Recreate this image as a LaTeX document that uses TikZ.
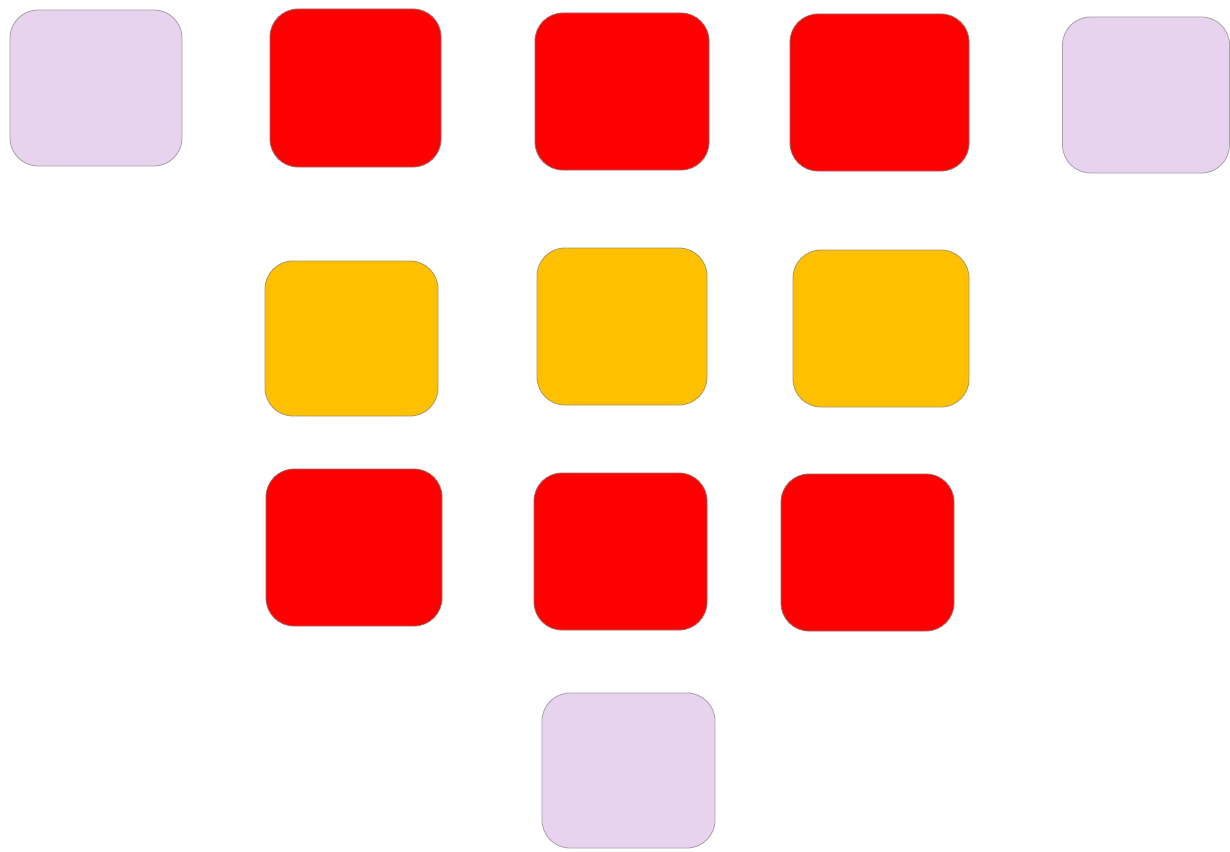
\documentclass[tikz,border=0pt]{standalone}
\definecolor{lav}{HTML}{E8D3EE}
\definecolor{lavline}{HTML}{A8A0A8}
\definecolor{gold}{HTML}{FFC000}
\definecolor{goldline}{HTML}{A89868}
\definecolor{redline}{HTML}{A06868}
\begin{document}
\begin{tikzpicture}[x=1pt,y=-1pt,
  tile/.style={rectangle, rounded corners=28pt, inner sep=0pt, line width=0.8pt},
  lavtile/.style={tile, fill=lav, draw=lavline},
  redtile/.style={tile, fill=red, draw=redline},
  goldtile/.style={tile, fill=gold, draw=goldline}]
\useasboundingbox[fill=white] (0,0) rectangle (1230,851);
\node[lavtile, minimum width=172pt, minimum height=156pt] (n1) at (96,88) {};
\node[redtile, minimum width=171pt, minimum height=158pt] (n2) at (355.5,88) {};
\node[redtile, minimum width=174pt, minimum height=157pt] (n3) at (622,91.5) {};
\node[redtile, minimum width=179pt, minimum height=157pt] (n4) at (879.5,92.5) {};
\node[lavtile, minimum width=167pt, minimum height=156pt] (n5) at (1146,95) {};
\node[goldtile, minimum width=173pt, minimum height=155pt] (n6) at (351.5,338.5) {};
\node[goldtile, minimum width=170pt, minimum height=157pt] (n7) at (622,326.5) {};
\node[goldtile, minimum width=176pt, minimum height=157pt] (n8) at (881,328.5) {};
\node[redtile, minimum width=176pt, minimum height=157pt] (n9) at (354,547.5) {};
\node[redtile, minimum width=173pt, minimum height=157pt] (n10) at (620.5,551.5) {};
\node[redtile, minimum width=173pt, minimum height=157pt] (n11) at (867.5,552.5) {};
\node[lavtile, minimum width=173pt, minimum height=155pt] (n12) at (628.5,770.5) {};
\end{tikzpicture}
\end{document}
